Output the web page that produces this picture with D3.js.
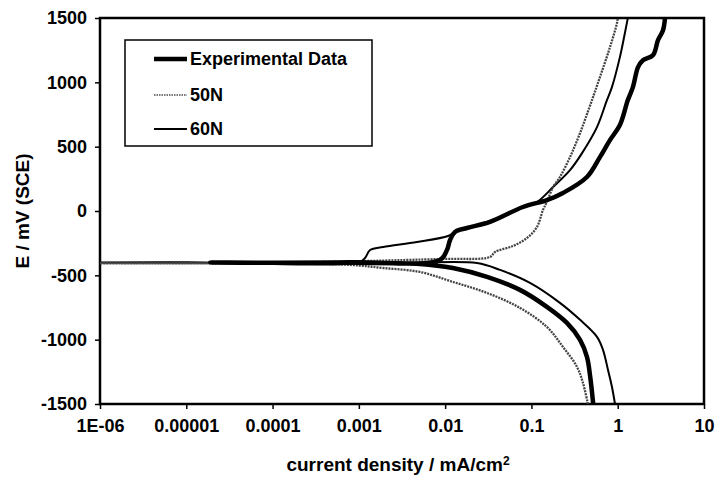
<!DOCTYPE html>
<html>
<head>
<meta charset="utf-8">
<script src="https://d3js.org/d3.v7.min.js"></script>
<style>
body { margin: 0; background: #fff; }
text { font-family: "Liberation Sans", Arial, sans-serif; font-weight: bold; fill: #000; }
</style>
</head>
<body>
<div id="chart"></div>
<script>

// x axis ticks (current density, log scale)
var xTickValues = [1e-6, 1e-5, 1e-4, 1e-3, 1e-2, 1e-1, 1, 10];
var xTickLabels = ["1E-06", "0.00001", "0.0001", "0.001", "0.01", "0.1", "1", "10"];
// y axis ticks (potential in mV)
var yTickValues = [-1500, -1000, -500, 0, 500, 1000, 1500];

// Experimental Data : current density (mA/cm2) and potential (mV)
var expI = [0.52, 0.48, 0.44, 0.366, 0.258, 0.151, 0.0736, 0.0306, 0.0123, 0.0051, 0.00079, 0.000019,
            0.00079, 0.0087, 0.0105, 0.0114, 0.0130, 0.0179, 0.0331, 0.0798, 0.151, 0.232,
            0.44, 0.622, 0.813, 1.06, 1.31, 1.50, 1.72, 1.96, 2.56, 2.93, 3.35, 3.53];
var expE = [-1500, -1289, -1134, -1002, -870, -745, -613, -512, -443, -411, -403, -401,
            -399, -380, -303, -225, -163, -132, -85, 31, 85, 140,
            264, 419, 551, 668, 862, 963, 1118, 1172, 1211, 1328, 1405, 1500];

// 50N
var n50I = [0.452, 0.395, 0.337, 0.232, 0.151, 0.0736, 0.0306, 0.0123, 0.0051, 0.00191, 0.00079, 0.0000547, 0.000001,
            0.0001, 0.0087, 0.0331, 0.0379, 0.0611, 0.0887, 0.116, 0.136, 0.151, 0.178, 0.214,
            0.280, 0.366, 0.48, 0.622, 0.813, 0.98, 1.0];
var n50E = [-1500, -1335, -1211, -1056, -901, -753, -637, -551, -474, -443, -419, -409, -406,
            -403, -373, -357, -318, -272, -210, -124, 8, 70, 186, 264,
            419, 606, 823, 1040, 1273, 1460, 1500];

// 60N
var n60I = [0.93, 0.857, 0.771, 0.675, 0.575, 0.366, 0.214, 0.0962, 0.0433, 0.0234, 0.0030, 0.000001,
            0.00001, 0.00103, 0.00118, 0.00135, 0.00191, 0.00472, 0.0108, 0.0130, 0.0179, 0.0331,
            0.0798, 0.116, 0.178, 0.280, 0.386, 0.575, 0.75, 0.857, 1.06, 1.21, 1.31];
var n60E = [-1500, -1366, -1234, -1079, -978, -846, -714, -559, -458, -404, -403, -400,
            -398, -396, -365, -303, -280, -241, -194, -163, -132, -78,
            31, 70, 186, 318, 450, 652, 862, 963, 1196, 1382, 1500];

var seriesNames = ["Experimental Data", "50N", "60N"];

// plot area
var margin = {top: 18, right: 13, bottom: 76, left: 100};
var width = 717 - margin.left - margin.right;
var height = 480 - margin.top - margin.bottom;

var svg = d3.select("#chart")
 .append("svg")
  .attr("width", 717)
  .attr("height", 480);

var g = svg.append("g")
  .attr("transform", "translate(" + margin.left + "," + margin.top + ")");

var xScale = d3.scaleLog().domain([1e-6, 10]).range([0, width]);
var yScale = d3.scaleLinear().domain([-1500, 1500]).range([height, 0]);

// clip lines to the plot area
svg.append("defs").append("clipPath")
  .attr("id", "plotclip")
 .append("rect")
  .attr("width", width)
  .attr("height", height);

//y axis
var yAxis = g.append("g")
  .call(d3.axisLeft(yScale).tickValues(yTickValues).tickSize(5).tickPadding(8)
  .tickFormat(function(d){ return d; }));
yAxis.select(".domain").remove();
yAxis.selectAll("line").attr("stroke", "#000").attr("stroke-width", 1.5);
yAxis.selectAll("text").style("font-size", "18px").attr("fill", "#000");

//x axis
var xAxis = g.append("g")
  .attr("transform", "translate(0," + height + ")")
  .call(d3.axisBottom(xScale).tickValues(xTickValues).tickSize(5).tickPadding(10)
  .tickFormat(function(d, i){ return xTickLabels[i]; }));
xAxis.select(".domain").remove();
xAxis.selectAll("line").attr("stroke", "#000").attr("stroke-width", 1.5);
xAxis.selectAll("text").style("font-size", "18px").attr("fill", "#000");

// plot frame
g.append("rect")
  .attr("width", width)
  .attr("height", height)
  .attr("fill", "none")
  .attr("stroke", "#000")
  .attr("stroke-width", 2.5);

//draw lines
var line = d3.line()
  .x(function(d){ return xScale(d[0]); })
  .y(function(d){ return yScale(d[1]); })
  .curve(d3.curveCatmullRom.alpha(0.5));

var lines = g.append("g").attr("clip-path", "url(#plotclip)");

lines.append("path")
  .datum(d3.zip(n60I, n60E))
  .attr("fill", "none")
  .attr("stroke", "#000")
  .attr("stroke-width", 2)
  .attr("stroke-linejoin", "round")
  .attr("d", line);

lines.append("path")
  .datum(d3.zip(n50I, n50E))
  .attr("fill", "none")
  .attr("stroke", "#444")
  .attr("stroke-width", 2.3)
  .attr("stroke-dasharray", "2,1")
  .attr("stroke-linejoin", "round")
  .attr("d", line);

lines.append("path")
  .datum(d3.zip(expI, expE))
  .attr("fill", "none")
  .attr("stroke", "#000")
  .attr("stroke-width", 4.5)
  .attr("stroke-linejoin", "round")
  .attr("d", line);

//legend
var legend = svg.append("g").attr("transform", "translate(125,40)");
legend.append("rect")
  .attr("width", 247)
  .attr("height", 106)
  .attr("fill", "#fff")
  .attr("stroke", "#000")
  .attr("stroke-width", 1.5);

var legendStyle = [
  {w: 4.5, c: "#000", dash: null},
  {w: 2, c: "#777", dash: "1.5,1"},
  {w: 2, c: "#000", dash: null}
];
var legendRows = [19, 55, 89];

seriesNames.forEach(function(name, i){
  legend.append("line")
    .attr("x1", 29).attr("x2", 62)
    .attr("y1", legendRows[i]).attr("y2", legendRows[i])
    .attr("stroke", legendStyle[i].c)
    .attr("stroke-width", legendStyle[i].w)
    .attr("stroke-dasharray", legendStyle[i].dash);
  legend.append("text")
    .attr("x", 65)
    .attr("y", legendRows[i])
    .attr("dy", "0.35em")
    .style("font-size", "18px")
    .text(name);
});

//axis titles
var xTitle = svg.append("text")
  .attr("x", 398)
  .attr("y", 471)
  .attr("text-anchor", "middle")
  .style("font-size", "19px");
xTitle.append("tspan").text("current density / mA/cm");
xTitle.append("tspan").attr("dy", "-0.5em").style("font-size", "12px").text("2");

svg.append("text")
  .attr("transform", "translate(29,211) rotate(-90)")
  .attr("text-anchor", "middle")
  .style("font-size", "19px")
  .text("E / mV (SCE)");

</script>
</body>
</html>
